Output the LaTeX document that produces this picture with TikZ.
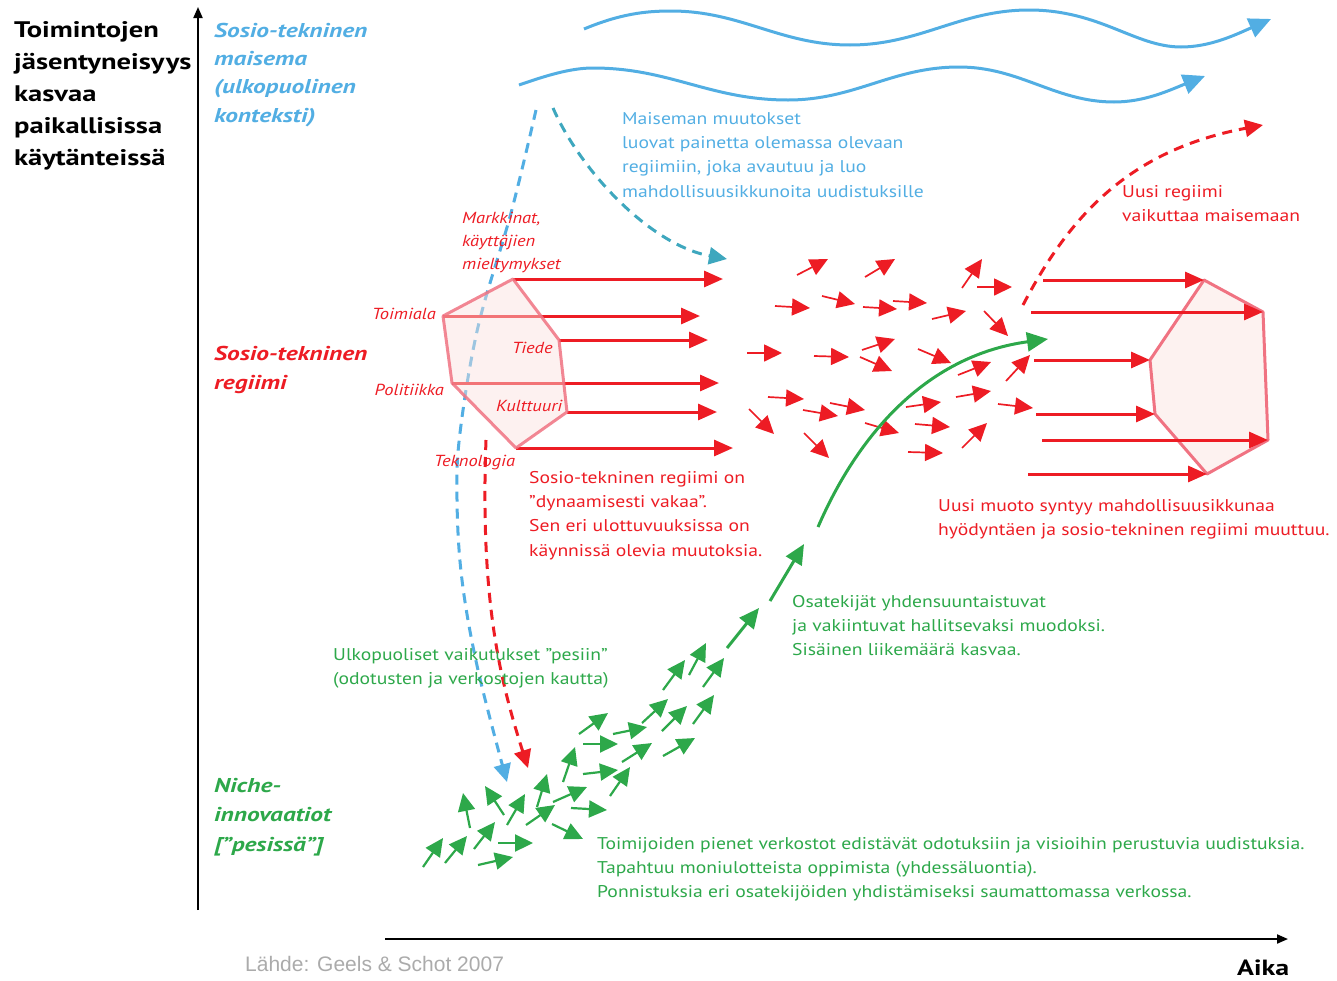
\documentclass[tikz,border=0pt]{standalone}
\usepackage{fontspec}
\setmainfont{PT Sans}[FakeStretch=1.155]
\newfontfamily\ttlfont{PT Sans}[FakeStretch=1.27]
\newfontfamily\srcfont{Liberation Sans}
\usetikzlibrary{arrows.meta}
\definecolor{mred}{HTML}{ED1C24}
\definecolor{mgreen}{HTML}{2DA84A}
\definecolor{mblue}{HTML}{52AEE3}
\definecolor{mteal}{HTML}{3EA7BE}
\definecolor{mpink}{HTML}{F07382}
\definecolor{mpinkfill}{HTML}{FAE1DE}
\definecolor{mgray}{HTML}{ABABAB}
\begin{document}
\begin{tikzpicture}[x=1pt,y=-1pt,
  sred/.style={mred, line width=1.7pt, -{Triangle[length=18pt,width=17pt]}},
  sgreen/.style={mgreen, line width=2.2pt, -{Triangle[length=18pt,width=17pt]}},
  bigred/.style={mred, line width=3pt, -{Triangle[length=19pt,width=16pt]}},
  wave/.style={mblue, line width=3pt, -{Triangle[length=22pt,width=20pt]}},
  dashline/.style={line width=3pt, dash pattern=on 10pt off 7pt},
  hexa/.style={draw=mpink, line width=3pt, line join=round},
  txt/.style={inner sep=0pt, anchor=base west, font=\fontsize{17}{24.4}\selectfont},
  lab/.style={inner sep=0pt, anchor=base west, text=mred, font=\fontsize{16}{23}\selectfont\itshape},
  ttl/.style={inner sep=0pt, anchor=base west, font=\ttlfont\fontsize{20}{29}\selectfont\bfseries\itshape}
]
\useasboundingbox (0,0) rectangle (1337,980);

% axes
\coordinate (ybot) at (198,910);
\coordinate (ytop) at (198,7);
\coordinate (xl) at (385,939);
\coordinate (xr) at (1288,939);
\draw[line width=2pt, -{Triangle[length=11pt,width=9pt]}] (ybot) -- (ytop);
\draw[line width=2pt, -{Triangle[length=11pt,width=9pt]}] (xl) -- (xr);

% landscape waves
\draw[wave] (584,29) .. controls (620,14) and (645,11) .. (671,11)
  .. controls (741,11) and (780,45) .. (850,45)
  .. controls (920,45) and (960,10) .. (1029,10)
  .. controls (1100,10) and (1135,47) .. (1181,47)
  .. controls (1210,47) and (1235,35) .. (1271,19);
\draw[wave] (519,85) .. controls (545,76) and (570,68) .. (593,68)
  .. controls (670,68) and (710,100) .. (788,100)
  .. controls (855,100) and (892,67) .. (959,67)
  .. controls (1020,67) and (1055,102) .. (1114,102)
  .. controls (1145,102) and (1170,90) .. (1205,76);

% long blue dashed to niches
\draw[mblue, dashline, -{Triangle[length=18pt,width=17pt]}]
  plot[smooth, tension=0.6] coordinates {(536,110) (511,213) (478,327) (460,433) (457,500) (462,580) (478,670) (507,782)};

% teal dashed to regime
\draw[mteal, dashline, -{Triangle[length=18pt,width=17pt]}]
  (553,108) .. controls (580,170) and (650,245) .. (727,259);

% red dashed from regime to niches
\draw[mred, dashline, -{Triangle[length=18pt,width=17pt]}]
  (486,440) .. controls (480,600) and (500,680) .. (528,768);

% red dashed from new regime to landscape
\draw[mred, dashline, -{Triangle[length=18pt,width=17pt]}]
  (1023,305) .. controls (1070,215) and (1130,150) .. (1263,125);

% left regime hexagon
\coordinate (hA) at (513,279);
\coordinate (hB) at (443,316);
\coordinate (hC) at (559,340);
\coordinate (hD) at (452,383);
\coordinate (hE) at (567,412);
\coordinate (hF) at (516,448);
\coordinate (hA2) at (723,279);
\coordinate (hB2) at (700,316);
\coordinate (hC2) at (708,340);
\coordinate (hD2) at (719,383);
\coordinate (hE2) at (717,412);
\coordinate (hF2) at (733,448);
\foreach \p in {A,B,C,D,E,F} \draw[bigred] (h\p) -- (h\p2);
\draw[hexa, fill=mpinkfill, fill opacity=0.45, draw opacity=0.85]
  (hA) -- (hC) -- (hE) -- (hF) -- (hD) -- (hB) -- cycle;

% right regime hexagon
\coordinate (rA) at (1204,280);
\coordinate (rB) at (1263,312);
\coordinate (rC) at (1150,360);
\coordinate (rD) at (1155,414);
\coordinate (rE) at (1268,440);
\coordinate (rF) at (1207,474);
\coordinate (rA0) at (1043,280);
\coordinate (rB0) at (1031,312);
\coordinate (rC0) at (1034,360);
\coordinate (rD0) at (1036,414);
\coordinate (rE0) at (1042,440);
\coordinate (rF0) at (1028,474);
\draw[hexa, fill=mpinkfill!45] (rA) -- (rB) -- (rE) -- (rF) -- (rD) -- (rC) -- cycle;
\foreach \p in {A,B,C,D,E,F} \draw[bigred] (r\p0) -- (r\p);

% small red arrows (unsettled regime)
\foreach \a/\b/\c/\d in {797/275/828/259, 865/277/895/259, 962/288/982/259, 977/287/1012/287,
  775/306/810/308, 822/296/855/304, 863/307/897/309, 893/301/927/303, 932/319/966/311,
  984/311/1008/336, 747/353/782/353, 814/356/849/357, 862/350/895/339, 860/357/892/371,
  918/349/951/363, 958/375/991/362, 1006/381/1030/355, 768/397/804/399, 803/410/838/416,
  830/403/865/410, 906/407/941/402, 956/397/991/391, 998/404/1033/408, 749/409/774/434,
  804/433/829/458, 865/423/899/433, 915/424/950/427, 908/452/943/453, 962/448/987/423}
  \draw[sred] (\a,\b) -- (\c,\d);

% small green arrows (niches)
\foreach \a/\b/\c/\d in {423/867/443/838, 445/863/467/836, 478/865/513/857, 474/849/495/822,
  498/843/533/843, 470/828/463/793, 504/815/485/786, 507/825/525/794, 526/825/555/805,
  552/824/583/839, 537/807/547/774, 571/808/607/810, 553/802/587/787, 563/782/575/747,
  583/774/618/770, 610/796/630/767, 583/744/618/744, 579/734/608/713, 613/734/647/727,
  622/762/652/743, 663/756/695/738, 642/723/668/699, 662/731/687/706, 693/724/714/695,
  663/690/685/660, 689/675/706/643, 703/687/724/658}
  \draw[sgreen] (\a,\b) -- (\c,\d);
\draw[mgreen, line width=3pt, -{Triangle[length=20pt,width=18pt]}] (727,648) -- (759,608);
\draw[mgreen, line width=3pt, -{Triangle[length=20pt,width=18pt]}] (770,601) -- (804,544);
\draw[mgreen, line width=3pt, -{Triangle[length=21pt,width=19pt]}]
  (818,527) .. controls (860,430) and (930,355) .. (1048,339);

% texts
\node[inner sep=0pt, anchor=base west, font=\ttlfont\fontsize{22.5}{32}\selectfont\bfseries] (tAxis) at (14,37)
  {\parbox[t]{190pt}{Toimintojen\\jäsentyneisyys\\kasvaa\\paikallisissa\\käytänteissä}};
\node[ttl, text=mblue, font=\ttlfont\fontsize{20}{28.4}\selectfont\bfseries\itshape] (tLand) at (214,37)
  {\parbox[t]{180pt}{Sosio-tekninen\\maisema\\(ulkopuolinen\\konteksti)}};
\node[ttl, text=mred] (tReg) at (214,360) {\parbox[t]{180pt}{Sosio-tekninen\\regiimi}};
\node[ttl, text=mgreen, font=\ttlfont\fontsize{20}{29.5}\selectfont\bfseries\itshape] (tNiche) at (214,792)
  {\parbox[t]{180pt}{Niche-\\innovaatiot\\{[}”pesissä”{]}}};

\node[txt, text=mblue] (tLandCh) at (622,124)
  {\parbox[t]{400pt}{Maiseman muutokset\\luovat painetta olemassa olevaan\\regiimiin, joka avautuu ja luo\\mahdollisuusikkunoita uudistuksille}};
\node[lab] (tMark) at (462,223) {\parbox[t]{150pt}{Markkinat,\\käyttäjien\\mieltymykset}};
\node[lab, anchor=base east] (tToim) at (436,319) {Toimiala};
\node[lab] (tTied) at (512,353) {Tiede};
\node[lab, anchor=base east] (tPol) at (444,395) {Politiikka};
\node[lab] (tKult) at (496,411) {Kulttuuri};
\node[lab] (tTekn) at (434,466) {Teknologia};
\node[txt, text=mred] (tStable) at (529,483)
  {\parbox[t]{300pt}{Sosio-tekninen regiimi on\\”dynaamisesti vakaa”.\\Sen eri ulottuvuuksissa on\\käynnissä olevia muutoksia.}};
\node[txt, text=mred] (tNewReg) at (1122,197) {\parbox[t]{210pt}{Uusi regiimi\\vaikuttaa maisemaan}};
\node[txt, text=mred] (tNewForm) at (938,511)
  {\parbox[t]{395pt}{Uusi muoto syntyy mahdollisuusikkunaa\\hyödyntäen ja sosio-tekninen regiimi muuttuu.}};
\node[txt, text=mgreen] (tAlign) at (792,607)
  {\parbox[t]{400pt}{Osatekijät yhdensuuntaistuvat\\ja vakiintuvat hallitsevaksi muodoksi.\\Sisäinen liikemäärä kasvaa.}};
\node[txt, text=mgreen] (tExt) at (333,660)
  {\parbox[t]{400pt}{Ulkopuoliset vaikutukset ”pesiin”\\(odotusten ja verkostojen kautta)}};
\node[txt, text=mgreen] (tNet) at (597,849)
  {\parbox[t]{735pt}{Toimijoiden pienet verkostot edistävät odotuksiin ja visioihin perustuvia uudistuksia.\\Tapahtuu moniulotteista oppimista (yhdessäluontia).\\Ponnistuksia eri osatekijöiden yhdistämiseksi saumattomassa verkossa.}};
\node[inner sep=0pt, anchor=base west, text=mgray, font=\srcfont\fontsize{21}{24}\selectfont] (tSrc) at (245,971)
  {Lähde: Geels \& Schot 2007};
\node[inner sep=0pt, anchor=base west, font=\ttlfont\fontsize{22}{26}\selectfont\bfseries] (tTime) at (1237,975) {Aika};
\end{tikzpicture}
\end{document}
